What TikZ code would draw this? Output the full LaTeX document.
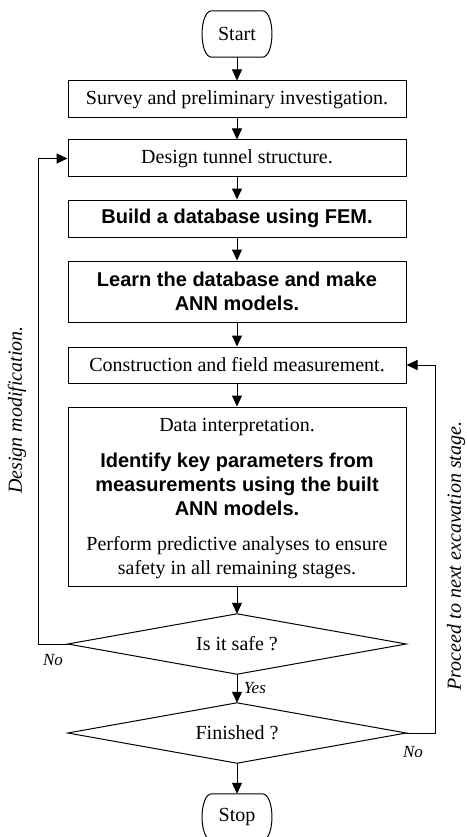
\documentclass[tikz,border=0pt]{standalone}
\usepackage{fontspec}
\setmainfont{Liberation Serif}
\setsansfont{Liberation Sans}
\usetikzlibrary{arrows.meta,calc}

\begin{document}
\begin{tikzpicture}[x=1pt,y=-1pt,
  every node/.style={font=\fontsize{20}{24}\selectfont},
  stepbox/.style={draw, line width=1pt, minimum width=338pt, inner sep=0pt, align=center},
  boldtext/.style={font=\fontsize{20}{24}\selectfont\sffamily\bfseries},
  termbox/.style={minimum width=68pt, minimum height=46pt, inner sep=0pt},
  decbox/.style={minimum width=338pt, minimum height=60pt, inner sep=0pt},
  flow/.style={line width=1pt, -{Triangle[length=11pt,width=10pt]}},
  outline/.style={line width=1pt},
  answer/.style={font=\fontsize{17}{20}\selectfont\itshape},
  sidenote/.style={font=\fontsize{20}{24}\selectfont\itshape, rotate=90}
]
\useasboundingbox (0,0) rectangle (466,837);

% terminals
\node[termbox] (start) at (237,34) {Start};
\node[termbox] (stop) at (237,817) {Stop};
\foreach \t in {start,stop}{
  \draw[outline] ([xshift=9pt]\t.north west) -- ([xshift=-9pt]\t.north east)
    .. controls ([xshift=4pt]\t.north east) and ([xshift=4pt]\t.south east) .. ([xshift=-9pt]\t.south east)
    -- ([xshift=9pt]\t.south west)
    .. controls ([xshift=-4pt]\t.south west) and ([xshift=-4pt]\t.north west) .. ([xshift=9pt]\t.north west) -- cycle;
}

% process steps
\node[stepbox, minimum height=37pt] (survey) at (237,99.5) {Survey and preliminary investigation.};
\node[stepbox, minimum height=37pt] (design) at (237,158.5) {Design tunnel structure.};
\node[stepbox, minimum height=37pt, boldtext] (build) at (237,218.5) {Build a database using FEM.};
\node[stepbox, minimum height=61pt, boldtext] (learn) at (237,291.5) {Learn the database and make\\[-0.5pt]ANN models.};
\node[stepbox, minimum height=36pt] (constr) at (237,365) {Construction and field measurement.};
\node[stepbox, minimum height=179pt] (data) at (237,496.5) {\rule{0pt}{18pt}Data interpretation.\\[12pt]
  {\sffamily\bfseries Identify key parameters from}\\
  {\sffamily\bfseries measurements using the built}\\
  {\sffamily\bfseries ANN models.}\\[11pt]
  Perform predictive analyses to ensure\\
  safety in all remaining stages.};

% decisions
\node[decbox] (safe) at (237,644) {Is it safe ?};
\node[decbox] (fin) at (237,733) {Finished ?};
\foreach \d in {safe,fin}{
  \draw[outline] (\d.west) -- (\d.north) -- (\d.east) -- (\d.south) -- cycle;
}

% main flow
\draw[flow] (start) -- (survey);
\draw[flow] (survey) -- (design);
\draw[flow] (design) -- (build);
\draw[flow] (build) -- (learn);
\draw[flow] (learn) -- (constr);
\draw[flow] (constr) -- (data);
\draw[flow] (data) -- (safe.north);
\draw[flow] (safe.south) -- (fin.north) node[midway, right=3pt, answer] (yes) {Yes};
\draw[flow] (fin.south) -- (stop);

% feedback loops
\draw[flow] (safe.west) -- ++(-29,0) coordinate (lc) |- (design.west);
\draw[flow] (fin.east) -- ++(29,0) coordinate (rc) |- (constr.east);

\node[answer] (nol) at (53,660) {No};
\node[answer] (nor) at (413,752) {No};
\node[sidenote] (dmod) at (17,410) {Design modification.};
\node[sidenote] (proc) at (456,556) {Proceed to next excavation stage.};
\end{tikzpicture}
\end{document}
